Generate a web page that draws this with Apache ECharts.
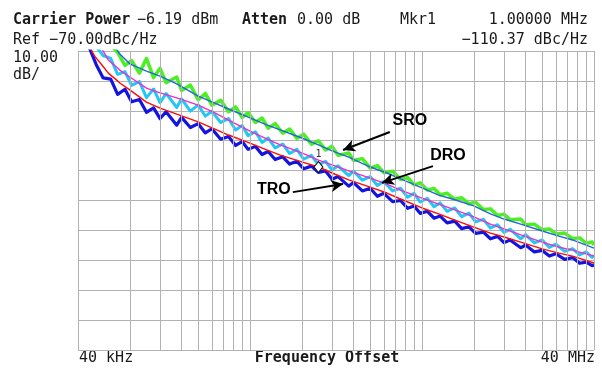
<!DOCTYPE html>
<html>
<head>
<meta charset="utf-8">
<script src="https://cdn.jsdelivr.net/npm/echarts@6/dist/echarts.min.js"></script>
<style>
html,body{margin:0;padding:0;background:#fff;}
#chart{width:602px;height:369px;}
</style>
</head>
<body>
<div id="chart"></div>
<script>
// frequency offsets (Hz) for the averaged traces
var avgFreq = [40e3, 45e3, 50e3, 56e3, 60e3, 68e3, 70e3, 80e3, 100e3, 120e3, 150e3, 200e3, 250e3, 300e3,
  400e3, 500e3, 600e3, 800e3, 1e6, 1.2e6, 1.5e6, 2e6, 2.5e6, 3e6, 4e6, 5e6, 6e6, 8e6, 10e6, 12e6,
  15e6, 20e6, 25e6, 30e6, 40e6];
var sroAvg = [-55, -58, -61, -64, -66, -70.0, -71.0, -74.3, -76.7, -78.4, -81.0, -85.1, -87.4, -89.4,
  -92.4, -94.7, -96.4, -99.1, -101.4, -103.4, -105.5, -108.8, -110.8, -112.8, -115.8, -118.2, -119.5, -121.8, -124.5, -126.2,
  -127.9, -130.2, -131.9, -133.2, -135.9];
var droAvg = [-58, -62, -66, -70.0, -73.0, -75.7, -76.4, -78.7, -82.4, -84.0, -85.7, -88.1, -90.7, -93.1,
  -96.8, -99.4, -101.4, -104.1, -106.5, -108.1, -110.1, -112.5, -114.5, -116.5, -119.2, -121.2, -122.8, -125.5, -127.9, -129.5,
  -131.5, -133.9, -135.6, -136.6, -138.6];
var troAvg = [-61, -67, -71.7, -75.2, -77.4, -80.0, -80.7, -83.0, -87.1, -89.1, -91.1, -93.7, -96.1, -98.1,
  -100.8, -103.1, -104.8, -107.1, -108.8, -110.8, -113.1, -115.5, -117.5, -119.5, -122.5, -124.5, -126.2, -128.9, -130.9, -132.2,
  -133.9, -136.2, -137.6, -138.6, -140.9];

// frequency offsets (Hz) for the raw (noisy) traces
var rawFreq = [40e3, 43e3, 47e3, 51e3, 56e3, 62e3, 68e3, 75e3, 82e3, 91e3,
  100e3, 110e3, 120e3, 130e3, 150e3, 160e3, 180e3, 200e3, 220e3, 240e3, 270e3, 300e3, 330e3, 360e3, 390e3, 430e3, 470e3, 510e3, 560e3, 620e3, 680e3, 750e3, 820e3, 910e3,
  1e6, 1.1e6, 1.2e6, 1.3e6, 1.5e6, 1.6e6, 1.8e6, 2e6, 2.2e6, 2.4e6, 2.7e6, 3e6, 3.3e6, 3.6e6, 3.9e6, 4.3e6, 4.7e6, 5.1e6, 5.6e6, 6.2e6, 6.8e6, 7.5e6, 8.2e6, 9.1e6,
  10e6, 11e6, 12e6, 13e6, 15e6, 16e6, 18e6, 20e6, 22e6, 24e6, 27e6, 30e6, 33e6, 36e6, 39e6, 40e6];
var sroRaw = [-58, -60, -62, -64, -66, -68, -70.5, -74.8, -73.2, -77.4,
  -72.5, -78.9, -75.8, -80.6, -78.7, -83.2, -81.4, -86.3, -84.2, -88.1, -86.5, -90.3, -88.7, -92.2, -90.6, -93.9, -92.4, -95.8, -94.3, -97.5, -96.1, -99.2, -97.8, -101.2,
  -100.0, -103.1, -101.9, -104.9, -104.1, -106.6, -106.0, -109.2, -108.3, -110.7, -110.2, -112.9, -112.3, -114.8, -114.1, -116.5, -116.0, -118.1, -117.6, -119.6, -119.1, -121.1, -120.6, -123.0,
  -122.8, -125.0, -124.6, -126.4, -126.2, -128.1, -127.9, -129.8, -129.5, -131.2, -130.9, -132.7, -132.5, -134.3, -133.9, -134.9];
var droRaw = [-60, -63, -66, -68.5, -71.5, -72.5, -77.8, -76.9, -81.5, -80.2,
  -85.6, -82.7, -87.3, -84.2, -88.9, -86.0, -90.1, -88.0, -91.8, -90.1, -93.9, -92.6, -96.4, -94.9, -98.3, -97.0, -100.6, -99.1, -102.4, -101.1, -104.3, -102.9, -106.2, -104.9,
  -108.1, -106.9, -109.8, -108.4, -111.7, -110.2, -113.2, -112.0, -115.0, -113.6, -116.8, -115.9, -118.9, -117.6, -120.5, -119.3, -122.1, -120.8, -123.6, -122.5, -125.4, -124.2, -127.1, -126.3,
  -129.2, -128.1, -130.7, -129.6, -132.8, -131.4, -134.2, -133.2, -135.7, -134.6, -137.0, -136.1, -138.2, -137.2, -139.0, -138.3];
var troRaw = [-62.0, -66.0, -69.5, -74.5, -79.0, -79.4, -84.5, -82.8, -87.0, -86.2,
  -90.5, -89.0, -92.6, -90.3, -94.8, -92.2, -95.6, -94.3, -97.4, -96.0, -99.5, -98.6, -101.6, -100.3, -102.9, -101.9, -104.6, -103.6, -106.3, -105.4, -107.8, -106.9, -109.4, -108.5,
  -110.6, -110.1, -112.9, -112.0, -115.2, -114.0, -116.8, -115.9, -118.6, -117.6, -120.4, -120.0, -122.6, -121.8, -124.3, -123.6, -125.9, -125.2, -127.5, -126.9, -129.4, -128.8, -131.0, -130.6,
  -132.8, -132.0, -134.1, -133.2, -135.8, -134.9, -137.2, -136.7, -138.6, -137.8, -139.7, -139.1, -141.0, -140.6, -141.8, -141.5];

// vertical grid: multiples of 40 kHz, 400 kHz, 4 MHz
var gridFreq = [];
[4e4, 4e5, 4e6].forEach(function(d) {
  for (var n = 1; n <= 10; n++) gridFreq.push(d * n);
});

var marker = [1e6, -108.8];
var notes = [
  {text: 'SRO', at: [3.4e6, -93.4], from: [2.6e6, -97.1], to: [1.39e6, -103.1]},
  {text: 'DRO', at: [5.66e6, -105.1], from: [4.63e6, -108.5], to: [2.34e6, -114.1]},
  {text: 'TRO', at: [5.5e5, -116.5], from: [7.1e5, -117.2], to: [1.39e6, -114.5]}
];

function pairs(xs, ys) {
  return xs.map(function(x, i) { return [x, ys[i]]; });
}

var mono = '"DejaVu Sans Mono", monospace';
function txt(s, x, y, opt) {
  opt = opt || {};
  return {
    type: 'text', silent: true,
    style: {
      text: s, x: x, y: y,
      fontFamily: mono, fontSize: 15,
      fontWeight: opt.bold ? 'bold' : 'normal',
      fill: '#1a1a1a',
      textAlign: opt.align || 'left',
      textVerticalAlign: 'middle'
    }
  };
}

function trace(xs, ys, color, width, z) {
  return {
    type: 'line', data: pairs(xs, ys), showSymbol: false, clip: true, z: z,
    lineStyle: {color: color, width: width, join: 'round'}
  };
}

var chart = echarts.init(document.getElementById('chart'));

var troLine = trace(avgFreq, troAvg, '#ff0a0a', 1.4, 3);
troLine.markPoint = {
  silent: true, animation: false,
  data: [{
    coord: marker, symbol: 'diamond', symbolSize: [9, 11],
    itemStyle: {color: '#fff', borderColor: '#111', borderWidth: 1},
    label: {show: true, position: 'top', distance: 2, formatter: '1', color: '#333', fontSize: 10, fontFamily: mono}
  }]
};

var option = {
  animation: false,
  backgroundColor: '#fff',
  grid: {left: 78, top: 51, right: 8, bottom: 19},
  xAxis: {
    type: 'log', logBase: 10, min: 4e4, max: 4e7,
    axisLine: {show: false}, axisTick: {show: false},
    axisLabel: {show: false}, splitLine: {show: false}
  },
  yAxis: {
    type: 'value', min: -170, max: -70, interval: 10,
    axisLine: {show: false}, axisTick: {show: false}, axisLabel: {show: false},
    splitLine: {show: true, lineStyle: {color: '#b2b2b2', width: 1}}
  },
  graphic: [
    txt('Carrier Power', 13, 20, {bold: true}),
    txt('\u22126.19 dBm', 137, 20),
    txt('Atten', 242, 20, {bold: true}),
    txt('0.00 dB', 297, 20),
    txt('Mkr1', 400, 20),
    txt('1.00000 MHz', 588, 20, {align: 'right'}),
    txt('Ref \u221270.00dBc/Hz', 13, 40),
    txt('\u2212110.37 dBc/Hz', 588, 40, {align: 'right'}),
    txt('10.00', 13, 58),
    txt('dB/', 13, 75),
    txt('40 kHz', 79, 358),
    txt('Frequency Offset', 327, 358, {bold: true, align: 'center'}),
    txt('40 MHz', 595, 358, {align: 'right'})
  ],
  series: [
    {
      type: 'line', data: [], z: 1, silent: true,
      markLine: {
        silent: true, symbol: 'none', animation: false,
        label: {show: false},
        lineStyle: {color: '#b2b2b2', width: 1, type: 'solid'},
        data: gridFreq.map(function(f) { return {xAxis: f}; })
      }
    },
    trace(rawFreq, sroRaw, '#4cef22', 3.5, 2),
    trace(rawFreq, droRaw, '#22c8f5', 3, 2),
    trace(rawFreq, troRaw, '#1414e0', 3.2, 2),
    trace(avgFreq, sroAvg, '#2266dd', 1.4, 3),
    trace(avgFreq, droAvg, '#f02ccc', 1.4, 3),
    troLine,
    {
      type: 'line', data: [], z: 5, silent: true,
      markLine: {
        silent: true, animation: false,
        symbol: ['none', 'arrow'], symbolSize: [9, 12],
        label: {show: false},
        lineStyle: {color: '#000', width: 2, type: 'solid'},
        data: notes.map(function(n) { return [{coord: n.from}, {coord: n.to}]; })
      },
      markPoint: {
        silent: true, animation: false,
        data: notes.map(function(n) {
          return {
            coord: n.at, symbol: 'circle', symbolSize: 1,
            itemStyle: {color: 'rgba(0,0,0,0)'},
            label: {show: true, position: 'inside', formatter: n.text, color: '#000',
              fontFamily: '"Liberation Sans", Arial, sans-serif', fontWeight: 'bold', fontSize: 16}
          };
        })
      }
    }
  ]
};
chart.setOption(option);
</script>
</body>
</html>
